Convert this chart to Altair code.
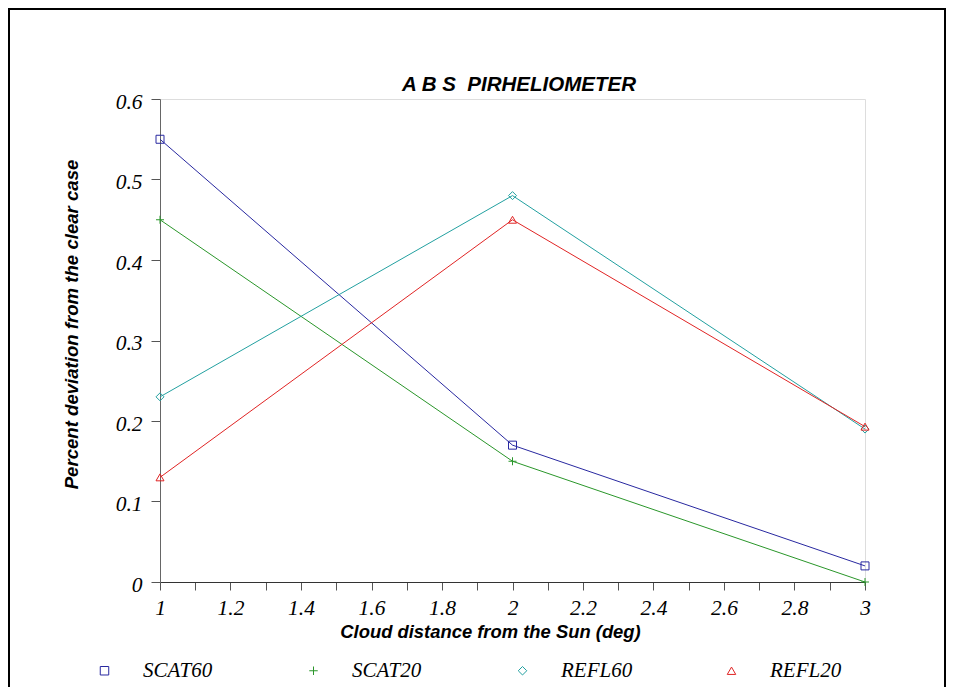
import altair as alt
import pandas as pd

# ---- data ----
distance = [1, 2, 3]
scat60 = [0.55, 0.17, 0.02]
scat20 = [0.45, 0.15, 0.0]
refl60 = [0.23, 0.48, 0.19]
refl20 = [0.13, 0.45, 0.193]

series_names = ["SCAT60", "SCAT20", "REFL60", "REFL20"]
series_colors = ["#2828a0", "#2a962a", "#22a0a0", "#e02424"]
series_shapes = ["square", "M-1,0H1M0,-1V1", "diamond", "triangle-up"]

x_tick_values = [1, 1.1, 1.2, 1.3, 1.4, 1.5, 1.6, 1.7, 1.8, 1.9, 2,
                 2.1, 2.2, 2.3, 2.4, 2.5, 2.6, 2.7, 2.8, 2.9, 3]
y_tick_values = [0, 0.1, 0.2, 0.3, 0.4, 0.5, 0.6]

chart_title = "A B S\u00a0 PIRHELIOMETER"

rows = []
for name, vals in zip(series_names, [scat60, scat20, refl60, refl20]):
    for d, v in zip(distance, vals):
        rows.append({"series": name, "distance": d, "value": v})
df = pd.DataFrame(rows)

SERIF = "Liberation Serif"
SANS = "Liberation Sans"

x_enc = alt.X(
    "distance:Q",
    scale=alt.Scale(domain=[1, 3], nice=False, zero=False),
    axis=alt.Axis(
        values=x_tick_values,
        format="~g",
        labelExpr="(round(datum.value * 10) % 2 == 0) ? datum.label : ''",
        labelFlush=False,
        tickSize=8,
        tickColor="#555555",
        domainColor="#333333",
        labelFont=SERIF,
        labelFontStyle="italic",
        labelFontSize=21.5,
        labelColor="black",
        labelPadding=7,
        grid=False,
        title="Cloud distance from the Sun (deg)",
        titleFont=SANS,
        titleFontWeight="bold",
        titleFontStyle="italic",
        titleFontSize=18.4,
        titleColor="black",
        titleX=330,
        titleY=55,
        titleBaseline="alphabetic",
    ),
)

y_enc = alt.Y(
    "value:Q",
    scale=alt.Scale(domain=[0, 0.6], nice=False),
    axis=alt.Axis(
        values=y_tick_values,
        format="~g",
        tickSize=9,
        tickColor="#555555",
        domainColor="#666666",
        labelFont=SERIF,
        labelFontStyle="italic",
        labelFontSize=21.5,
        labelColor="black",
        labelPadding=9,
        labelOffset=3,
        grid=False,
        title="Percent deviation from the clear case",
        titleFont=SANS,
        titleFontWeight="bold",
        titleFontStyle="italic",
        titleFontSize=18.6,
        titleColor="black",
        titleX=-83,
        titleY=225,
        titleBaseline="alphabetic",
    ),
)

color_scale = alt.Scale(domain=series_names, range=series_colors)
shape_scale = alt.Scale(domain=series_names, range=series_shapes)

legend = alt.Legend(
    title=None,
    orient="none",
    legendX=-66,
    legendY=561,
    direction="horizontal",
    columns=4,
    columnPadding=88,
    gridAlign="all",
    labelOffset=28,
    symbolSize=72,
    symbolStrokeWidth=1,
    labelFont=SERIF,
    labelFontStyle="italic",
    labelFontSize=21,
    labelColor="black",
)

series_lines = alt.Chart(df).mark_line(
    strokeWidth=1,
    point=alt.OverlayMarkDef(filled=False, size=64, strokeWidth=1, opacity=1),
).encode(
    x=x_enc,
    y=y_enc,
    color=alt.Color("series:N", scale=color_scale, legend=legend),
    shape=alt.Shape("series:N", scale=shape_scale, legend=legend),
)

frame = alt.Chart(pd.DataFrame({"f": [0]})).mark_rect(
    filled=False, stroke="black", strokeWidth=2
).encode(
    x=alt.value(-151), x2=alt.value(785), y=alt.value(-90), y2=alt.value(700)
)

title_text = alt.Chart(pd.DataFrame({"t": [chart_title]})).mark_text(
    font=SANS, fontSize=20.5, fontWeight="bold", fontStyle="italic",
    color="black", align="center", baseline="alphabetic",
).encode(
    text="t:N", x=alt.value(359), y=alt.value(-8)
)

chart = alt.layer(frame, title_text, series_lines).properties(
    width=705,
    height=483,
    autosize=alt.AutoSizeParams(type="none"),
    padding={"left": 152, "top": 91, "right": 81, "bottom": 105},
).configure_view(stroke="#555555", strokeWidth=1).configure(background="white")

chart.save("out.html", embed_options={"renderer": "svg", "actions": False})
